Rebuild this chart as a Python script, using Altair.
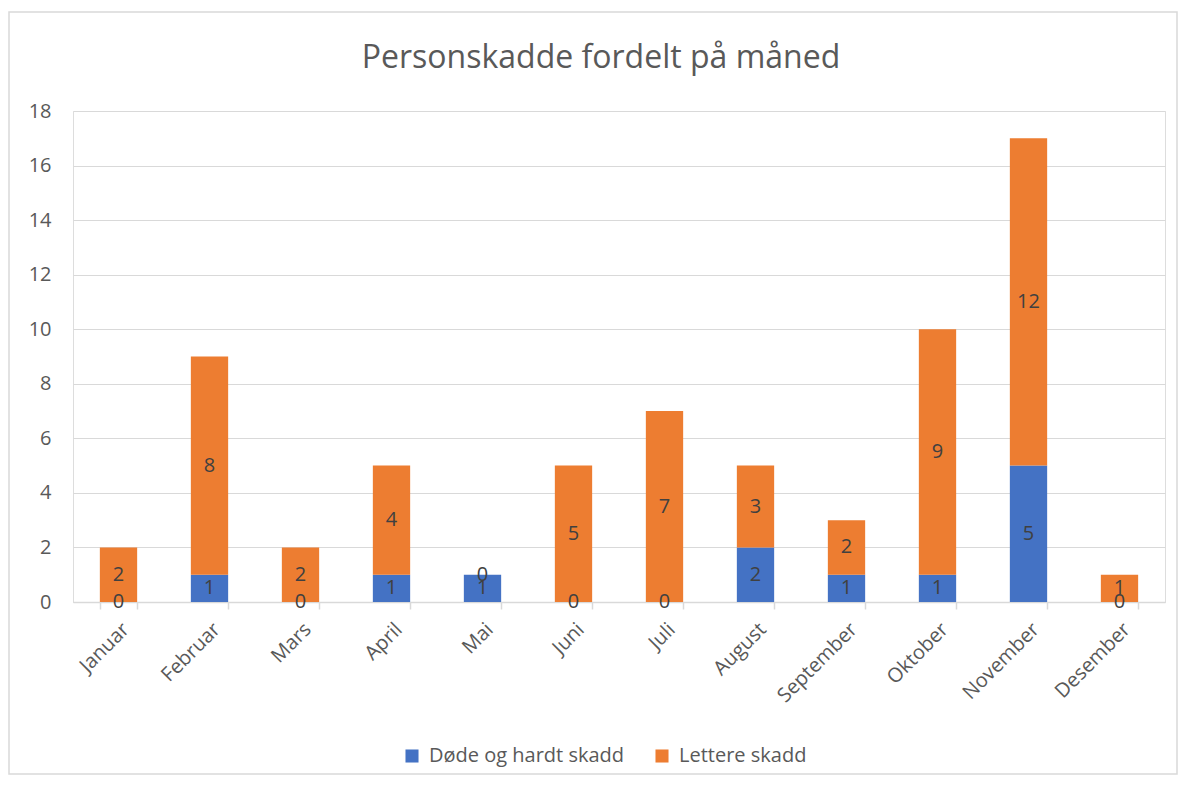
import altair as alt
import pandas as pd

TITLE = "Personskadde fordelt på måned"
months = ["Januar", "Februar", "Mars", "April", "Mai", "Juni", "Juli",
          "August", "September", "Oktober", "November", "Desember"]
dode = [0, 1, 0, 1, 1, 0, 0, 2, 1, 1, 5, 0]
lettere = [2, 8, 2, 4, 0, 5, 7, 3, 2, 9, 12, 1]
series = ["Døde og hardt skadd", "Lettere skadd"]
colors = ["#4472C4", "#ED7D31"]

rows = []
for i, m in enumerate(months):
    rows.append({"month": m, "series": series[0], "value": dode[i], "order": 0})
    rows.append({"month": m, "series": series[1], "value": lettere[i], "order": 1})
df = pd.DataFrame(rows)

FONT = "Open Sans"
GRAY = "#595959"

x_enc = alt.X("month:N", sort=months, title=None,
              scale=alt.Scale(paddingInner=0.59, paddingOuter=0.295),
              axis=alt.Axis(labelAngle=-45, labelAlign="right", labelBaseline="top",
                            labelFontSize=20, labelColor=GRAY, labelFont=FONT,
                            labelPadding=10, tickBand="extent", tickSize=7,
                            tickColor="#d9d9d9", domainColor="#d9d9d9",
                            domainWidth=1.5, tickWidth=1.5, grid=False,
                            labelLimit=0))

base = alt.Chart(df).transform_stack(
    stack="value", groupby=["month"], sort=[alt.SortField("order")], as_=["v0", "v1"]
).transform_calculate(mid="(datum.v0 + datum.v1) / 2")

bars = base.mark_bar().encode(
    x=x_enc,
    y=alt.Y("v0:Q", title=None,
            scale=alt.Scale(domain=[0, 18], nice=False),
            axis=alt.Axis(values=list(range(0, 19, 2)), labelFontSize=20, labelColor=GRAY,
                          labelFont=FONT, labelPadding=22, domain=False, ticks=False,
                          gridColor="#d9d9d9", gridWidth=1.2)),
    y2="v1:Q",
    color=alt.Color("series:N", sort=series,
                    scale=alt.Scale(domain=series, range=colors),
                    legend=alt.Legend(title=None, orient="none", direction="horizontal",
                                      legendX=329, legendY=635, symbolType="square",
                                      symbolSize=170, symbolStrokeWidth=0,
                                      labelFontSize=20, labelColor=GRAY, labelFont=FONT,
                                      columnPadding=27, labelOffset=7, labelLimit=0)),
)

labels = base.mark_text(fontSize=20, color="#404040", font=FONT, baseline="middle").encode(
    x=alt.X("month:N", sort=months),
    y=alt.Y("mid:Q"),
    text=alt.Text("value:Q"),
)

frame = alt.Chart(pd.DataFrame({"k": [0]})).mark_rect(
    fill=None, stroke="#d9d9d9", strokeWidth=1.5
).encode(
    x=alt.value(-64), x2=alt.value(1104), y=alt.value(-99), y2=alt.value(663)
)

title = alt.Chart(pd.DataFrame({"t": [TITLE]})).mark_text(
    fontSize=32, font=FONT, color=GRAY, align="center", baseline="alphabetic"
).encode(
    text="t:N", x=alt.value(528), y=alt.value(-43)
)

chart = alt.layer(frame, title, bars, labels).properties(
    width=1092, height=491,
    autosize=alt.AutoSizeParams(type="none"),
    padding={"left": 65, "top": 103, "right": 13, "bottom": 174},
).configure_view(stroke=None).configure(background="white")

chart.save("out.html", embed_options={"renderer": "svg", "actions": False})
